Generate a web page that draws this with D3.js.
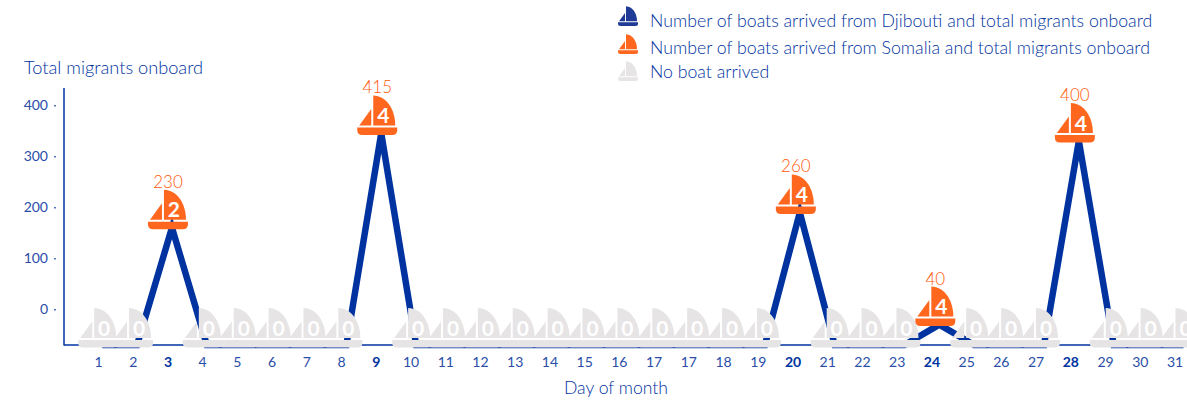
<!DOCTYPE html>
<html>
<head>
<meta charset="utf-8">
<script src="https://cdn.jsdelivr.net/npm/d3@7"></script>
<style>
  html, body { margin: 0; padding: 0; background: #fff; }
  text { font-family: Lato, sans-serif; font-weight: 400; }
</style>
</head>
<body>
<div id="chart"></div>
<script>
// the source chart really does label two ticks "17"
const dayLabels = [1,2,3,4,5,6,7,8,9,10,11,12,13,14,15,16,17,17,18,19,20,21,22,23,24,25,26,27,28,29,30,31];
const migrants  = [0,0,230,0,0,0,0,0,415,0,0,0,0,0,0,0,0,0,0,0,260,0,0,0,40,0,0,0,400,0,0,0];
const boats     = [0,0,2,0,0,0,0,0,4,0,0,0,0,0,0,0,0,0,0,0,4,0,0,0,4,0,0,0,4,0,0,0];
const yTicks = [0,100,200,300,400];
const legendItems = [
  { label: "Number of boats arrived from Djibouti and total migrants onboard", color: "#1f3b95" },
  { label: "Number of boats arrived from Somalia and total migrants onboard", color: "#ff671f" },
  { label: "No boat arrived", color: "#e6e4e5" }
];

const width = 1187, height = 401;
const navy = "#0033a0", orange = "#ff671f", grey = "#e6e4e5", textBlue = "#2a4ea8";

const svg = d3.select("#chart").append("svg")
  .attr("width", width).attr("height", height)
  .style("display", "block");

// labels and marks are not quite aligned in the original, so two x scales
const xLabel = d3.scalePoint().domain(d3.range(dayLabels.length)).range([98.5, 1175]);
const x = d3.scalePoint().domain(d3.range(dayLabels.length)).range([102.2, 1183.5]);

// line sits on the x axis at 0, the printed axis is shifted by 70
const y = d3.scaleLinear().domain([0, 504]).range([345, 88]);
const yAxisScale = d3.scaleLinear().domain([-70, 434]).range([345, 88]);

// one boat, origin at the middle of the hull bottom
function drawBoat(g, color) {
  g.append("path").attr("fill", color)
    .attr("d", "M-20,-7.5 H20 V-5 Q20,0 15,0 H-15 Q-20,0 -20,-5 Z");
  g.append("path").attr("fill", color)
    .attr("d", "M-4,-9.5 V-39.5 C9,-39 18,-26 18,-9.5 Z");
  g.append("path").attr("fill", color)
    .attr("d", "M-18,-9.5 L-6,-26 V-9.5 Z");
}

// axes
const yAxis = d3.axisLeft(yAxisScale).tickValues(yTicks).tickSize(2).tickPadding(6);
const yG = svg.append("g").attr("transform", "translate(56,0)").call(yAxis);
yG.select(".domain").remove();
yG.selectAll("line").attr("stroke", navy).attr("stroke-width", 1);
yG.selectAll("text").attr("font-size", 14).attr("fill", textBlue).attr("font-family", "Lato");

svg.append("line").attr("x1", 64).attr("x2", 64).attr("y1", 88).attr("y2", 345.5)
  .attr("stroke", navy).attr("stroke-width", 1.5);
svg.append("line").attr("x1", 64).attr("x2", 1187).attr("y1", 345).attr("y2", 345)
  .attr("stroke", navy).attr("stroke-width", 1.5);

// thick line
const lineGen = d3.line().x((d, i) => x(i)).y(d => y(d));
svg.append("path").datum(migrants)
  .attr("fill", "none").attr("stroke", navy).attr("stroke-width", 6.5)
  .attr("stroke-linejoin", "miter")
  .attr("d", lineGen);

// boats, grey first so the orange ones stay on top
const boatData = migrants.map((v, i) => ({ i, v, n: boats[i] }));
const boatG = svg.selectAll(".boat")
  .data(boatData.slice().sort((a, b) => a.n - b.n))
  .enter().append("g")
  .attr("class", "boat")
  .attr("transform", d => `translate(${x(d.i) - 4},${y(d.v) + (d.n ? 1.5 : 2.5)})`);

boatG.each(function (d) {
  const g = d3.select(this);
  drawBoat(g, d.n ? orange : grey);
  g.append("text").attr("x", 6).attr("y", -12)
    .attr("text-anchor", "middle")
    .attr("font-size", 21)
    .attr("font-family", "Open Sans")
    .style("font-weight", 700)
    .attr("fill", "#fff")
    .text(d.n);
  if (d.n) {
    g.append("text").attr("x", 0).attr("y", -41.5)
      .attr("text-anchor", "middle")
      .attr("font-size", 17)
      .style("font-weight", 300)
      .attr("fill", "#ff5a0a")
      .text(d.v);
  }
});

// x labels
svg.selectAll(".day")
  .data(dayLabels)
  .enter().append("text")
  .attr("class", "day")
  .attr("x", (d, i) => xLabel(i))
  .attr("y", 367)
  .attr("text-anchor", "middle")
  .attr("font-size", 14)
  .style("font-weight", (d, i) => boats[i] ? 700 : 400)
  .attr("fill", (d, i) => boats[i] ? navy : textBlue)
  .text(d => d);

svg.append("text").attr("x", 24).attr("y", 74)
  .attr("font-size", 18.2).attr("fill", navy).style("font-weight", 300).text("Total migrants onboard");
svg.append("text").attr("x", 616).attr("y", 394)
  .attr("text-anchor", "middle")
  .attr("font-size", 17.6).attr("fill", navy).style("font-weight", 300).text("Day of month");

// legend
const iconY = [26, 54, 81];
const labelY = [27, 53.5, 77.5];
const legend = svg.selectAll(".legend")
  .data(legendItems)
  .enter().append("g").attr("class", "legend");
legend.each(function (d, i) {
  const g = d3.select(this);
  const icon = g.append("g").attr("transform", `translate(628,${iconY[i]}) scale(0.5)`);
  drawBoat(icon, d.color);
  g.append("text").attr("x", 650).attr("y", labelY[i])
    .attr("font-size", 17.7).attr("fill", navy).style("font-weight", 300).text(d.label);
});
</script>
</body>
</html>
